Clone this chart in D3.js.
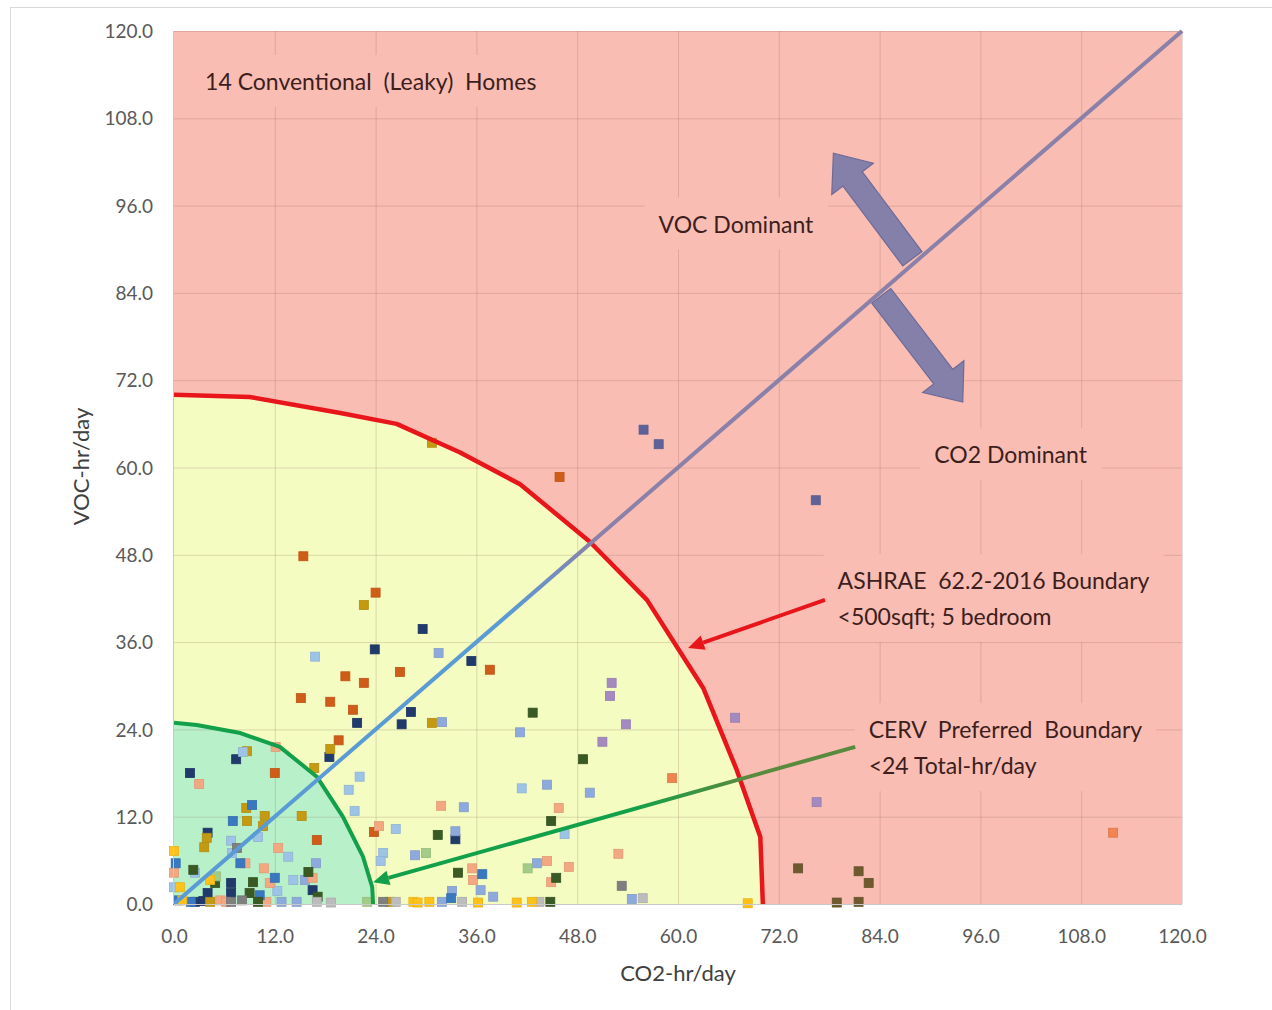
<!DOCTYPE html>
<html>
<head>
<meta charset="utf-8">
<script src="https://cdnjs.cloudflare.com/ajax/libs/d3/7.8.5/d3.min.js"></script>
<style>
  body { margin: 0; background: #fff; }
  svg { display: block; }
  text { font-family: Lato, "Open Sans", "Noto Sans", sans-serif; white-space: pre; }
</style>
</head>
<body>
<svg id="chart" width="1272" height="1010"></svg>
<script>
// ---- axis ticks ----
const xTicks = [0, 12, 24, 36, 48, 60, 72, 84, 96, 108, 120];
const yTicks = [0, 12, 24, 36, 48, 60, 72, 84, 96, 108, 120];

// ---- boundaries (CO2-hr/day, VOC-hr/day) ----
const ashraeBoundary = [[0, 70.0], [9.0, 69.7], [19.8, 67.5], [26.5, 66.0], [34.0, 62.1], [41.2, 57.7],
  [49.5, 49.8], [56.3, 41.8], [63.0, 29.7], [67.0, 18.4], [69.8, 9.2], [70.1, 0]];
const cervBoundary = [[0, 24.9], [2.7, 24.6], [7.9, 23.5], [12.6, 21.6], [17.0, 17.5], [20.1, 12.0],
  [22.5, 6.5], [23.6, 2.3], [23.7, 0]];
const equalLine = [[0, 0], [120, 120]];

// ---- measured hours per day, grouped by home ----
const homeNavy = [[29.6, 37.8], [23.9, 35.0], [35.4, 33.4], [28.2, 26.4], [27.1, 24.7], [21.8, 24.9],
  [18.5, 20.2], [7.4, 19.9], [1.9, 18.0], [4.0, 9.8], [33.5, 8.9], [6.8, 2.9], [16.5, 1.9],
  [2.5, 0.3], [3.5, 0.4], [6.8, 1.5], [4.0, 1.5]];
const homeOrange = [[15.4, 47.8], [24.0, 42.8], [26.9, 31.9], [20.4, 31.3], [22.6, 30.4], [15.1, 28.3],
  [18.6, 27.8], [21.3, 26.7], [37.6, 32.2], [19.6, 22.5], [12.0, 18.0], [17.0, 8.8], [23.8, 9.9],
  [45.9, 58.7]];
const homeGold = [[22.6, 41.1], [30.7, 24.9], [18.6, 21.3], [16.7, 18.7], [8.7, 21.0], [8.6, 13.2],
  [8.7, 11.4], [10.8, 12.1], [10.6, 10.7], [15.2, 12.1], [3.9, 9.1], [3.6, 7.8], [25.7, 0.3],
  [4.3, 0.3], [30.7, 63.4]];
const homeLightBlue = [[16.8, 34.0], [22.1, 17.5], [41.4, 15.9], [26.4, 10.3], [24.9, 7.0], [24.6, 5.9],
  [46.5, 9.6], [8.2, 20.9], [20.8, 15.7], [21.5, 12.8], [6.8, 8.7], [10.0, 9.2], [13.6, 6.5],
  [14.2, 3.3], [12.3, 1.8], [2.5, 4.3], [0, 2.3], [6.9, 7.0]];
const homePeriwinkle = [[31.5, 34.5], [31.9, 25.0], [41.2, 23.6], [44.4, 16.4], [49.5, 15.3], [34.5, 13.3],
  [33.5, 10.0], [28.7, 6.7], [43.2, 5.6], [33.1, 1.8], [36.5, 1.9], [38.0, 1.0], [54.5, 0.7],
  [31.9, 0.3], [16.9, 5.6], [12.8, 0.3], [14.6, 0.3], [15.6, 3.3]];
const homeSalmon = [[31.8, 13.5], [45.8, 13.2], [24.4, 10.7], [52.9, 6.9], [35.5, 4.9], [35.6, 3.3],
  [44.4, 5.9], [47.0, 5.1], [44.9, 3.0], [12.1, 21.6], [3.0, 16.5], [12.4, 7.7], [8.5, 5.6],
  [10.7, 4.9], [11.4, 2.9], [16.5, 3.6], [0, 4.3], [11.0, 0.3], [5.5, 0.5], [6.2, 0.3]];
const homeCoral = [[59.3, 17.3], [111.8, 9.8]];
const homeBlue = [[9.3, 13.6], [7.0, 11.4], [0.2, 5.6], [7.9, 5.6], [12.0, 3.6], [10.2, 1.2],
  [36.7, 4.1], [33.0, 0.8], [0.5, 0.5], [2.0, 0.3]];
const homeDarkGreen = [[42.7, 26.3], [48.7, 19.9], [44.9, 11.4], [31.4, 9.5], [33.8, 4.3], [45.5, 3.6],
  [44.8, 0.3], [16.0, 4.4], [9.4, 3.0], [9.0, 1.5], [4.9, 2.9], [2.3, 4.7], [17.1, 1.0], [10.0, 0.3]];
const homeLightGreen = [[30.0, 7.0], [42.1, 4.9], [23.0, 0.3], [5.0, 3.8]];
const homeGray = [[53.3, 2.5], [24.9, 0.3], [7.5, 7.7], [8.1, 0.5], [6.8, 0.3]];
const homeLightGray = [[55.8, 0.8], [26.4, 0.3], [34.3, 0.3], [43.5, 0.3], [17.0, 0.3], [18.7, 0.2]];
const homeYellow = [[68.3, 0.1], [28.5, 0.3], [29.0, 0.2], [30.4, 0.3], [36.2, 0.2], [40.8, 0.2],
  [42.6, 0.3], [0, 7.3], [4.3, 3.3], [0.7, 2.3], [1.0, 0.5]];
const homePurple = [[52.1, 30.4], [51.9, 28.6], [53.8, 24.7], [51.0, 22.3], [66.8, 25.6], [76.5, 14.0]];
const homeSlate = [[55.9, 65.2], [57.7, 63.2], [76.4, 55.5]];
const homeBrown = [[74.3, 4.9], [81.5, 4.5], [82.7, 2.9], [78.9, 0.2], [81.5, 0.3]];

const homes = [homeNavy, homeOrange, homeGold, homeLightBlue, homePeriwinkle, homeSalmon, homeCoral,
  homeBlue, homeDarkGreen, homeLightGreen, homeGray, homeLightGray, homeYellow, homePurple, homeSlate, homeBrown];
const homeColors = ["#203a6c", "#cf5c18", "#c49a12", "#9dc3e6", "#8eaadc", "#f4a882", "#f08452",
  "#3a78c0", "#3a5a24", "#a3cc88", "#7f7f7f", "#bcbcbc", "#ffc21a", "#a58abf", "#5f6298", "#6e5a2e"];

// ---- annotation text ----
const titleText = "14 Conventional  (Leaky)  Homes";
const vocText = "VOC Dominant";
const co2Text = "CO2 Dominant";
const ashraeText = ["ASHRAE  62.2-2016 Boundary", "<500sqft; 5 bedroom"];
const cervText = ["CERV  Preferred  Boundary", "<24 Total-hr/day"];

// ---- scales ----
const svg = d3.select("#chart");
const x = d3.scaleLinear().domain([0, 120]).range([174, 1182]);
const y = d3.scaleLinear().domain([0, 120]).range([904, 31]);

// outer chart frame
svg.append("rect").attr("x", 10.5).attr("y", 7.5).attr("width", 1400).attr("height", 1100)
  .attr("fill", "#fff").attr("stroke", "#d9d9d9");

const defs = svg.append("defs");
const diagGrad = defs.append("linearGradient").attr("id", "diagGrad").attr("gradientUnits", "userSpaceOnUse")
  .attr("x1", x(40)).attr("y1", y(40)).attr("x2", x(50)).attr("y2", y(50));
diagGrad.append("stop").attr("offset", 0).attr("stop-color", "#5b9bd5");
diagGrad.append("stop").attr("offset", 1).attr("stop-color", "#8a80a8");
const greenGrad = defs.append("linearGradient").attr("id", "greenGrad").attr("gradientUnits", "userSpaceOnUse")
  .attr("x1", x(55)).attr("y1", 0).attr("x2", x(68)).attr("y2", 0);
greenGrad.append("stop").attr("offset", 0).attr("stop-color", "#13a04a");
greenGrad.append("stop").attr("offset", 1).attr("stop-color", "#5a8a3e");

// ---- zone fills ----
const pink = "#f9bdb4";
svg.append("rect").attr("x", x(0)).attr("y", y(120)).attr("width", x(120) - x(0)).attr("height", y(0) - y(120))
  .attr("fill", pink);
const area = d3.line().x(d => x(d[0])).y(d => y(d[1]));
svg.append("path").attr("d", area([[0, 0], ...ashraeBoundary]) + "Z").attr("fill", "#f4fcc1");
svg.append("path").attr("d", area([[0, 0], ...cervBoundary]) + "Z").attr("fill", "#b8f0c9");

// ---- gridlines ----
const grid = svg.append("g").attr("stroke", "rgba(120,80,70,0.2)").attr("stroke-width", 1);
grid.selectAll("line.v").data(xTicks.slice(1)).join("line")
  .attr("x1", d => x(d) + 0.5).attr("x2", d => x(d) + 0.5).attr("y1", y(0)).attr("y2", y(120));
grid.selectAll("line.h").data(yTicks.slice(1)).join("line")
  .attr("y1", d => y(d) + 0.5).attr("y2", d => y(d) + 0.5).attr("x1", x(0)).attr("x2", x(120));

// ---- text boxes (pink backgrounds that break the gridlines) ----
const textColor = "#3d1e1c";
const boxes = svg.append("g");
const labels = svg.append("g").attr("fill", textColor).attr("font-size", 23);

function label(lines, xv, yv, anchor, lineGap) {
  const t = labels.append("text").attr("text-anchor", anchor);
  lines.forEach((s, i) => {
    t.append("tspan").attr("x", x(xv)).attr("y", y(yv) + i * lineGap).text(s);
  });
  const b = t.node().getBBox();
  boxes.append("rect").attr("x", b.x - 14).attr("y", b.y - 12).attr("width", b.width + 28)
    .attr("height", b.height + 24).attr("fill", pink);
  return t;
}
label([titleText], 3.7, 111.9, "start", 0);
label([vocText], 66.9, 92.3, "middle", 0);
label([co2Text], 99.6, 60.6, "middle", 0);
label(ashraeText, 79.0, 43.3, "start", 36);
label(cervText, 82.7, 22.8, "start", 36);

// ---- scatter points ----
const size = 9;
const pts = svg.append("g");
homes.forEach((home, i) => {
  pts.append("g").selectAll("rect").data(home).join("rect")
    .attr("x", d => x(d[0]) - size / 2).attr("y", d => y(d[1]) - size / 2)
    .attr("width", size).attr("height", size)
    .attr("fill", homeColors[i])
    .attr("stroke", d3.color(homeColors[i]).darker(0.25)).attr("stroke-width", 0.8);
});

// ---- boundary curves ----
const line = d3.line().x(d => x(d[0])).y(d => y(d[1]));
svg.append("path").attr("d", line(ashraeBoundary)).attr("fill", "none")
  .attr("stroke", "#e8151b").attr("stroke-width", 4.5).attr("stroke-linejoin", "round");
svg.append("path").attr("d", line(cervBoundary)).attr("fill", "none")
  .attr("stroke", "#12a04b").attr("stroke-width", 4).attr("stroke-linejoin", "round");

// ---- dominance arrows ----
function blockArrow(p0, p1, shaftW, headW, headL) {
  const a = [x(p0[0]), y(p0[1])], b = [x(p1[0]), y(p1[1])];
  const len = Math.hypot(b[0] - a[0], b[1] - a[1]);
  const u = [(b[0] - a[0]) / len, (b[1] - a[1]) / len], n = [-u[1], u[0]];
  const base = [b[0] - u[0] * headL, b[1] - u[1] * headL];
  const P = (p, k) => [p[0] + n[0] * k, p[1] + n[1] * k];
  return [P(a, shaftW / 2), P(base, shaftW / 2), P(base, headW / 2), b,
    P(base, -headW / 2), P(base, -shaftW / 2), P(a, -shaftW / 2)];
}
const arrowUp = [[87.9, 88.7], [78.5, 103.2]];
const arrowDown = [[84.2, 83.6], [93.9, 69.0]];
[arrowUp, arrowDown].forEach(([p0, p1]) => {
  svg.append("polygon").attr("points", blockArrow(p0, p1, 24, 52, 32).map(p => p.join(",")).join(" "))
    .attr("fill", "#8580aa").attr("stroke", "#6d6a98").attr("stroke-width", 1.2);
});

// equal-hours diagonal
svg.append("path").attr("d", line(equalLine)).attr("fill", "none")
  .attr("stroke", "url(#diagGrad)").attr("stroke-width", 4);

// ---- callout arrows ----
function callout(p0, p1, color, w, headL, headW) {
  const a = [x(p0[0]), y(p0[1])], b = [x(p1[0]), y(p1[1])];
  const len = Math.hypot(b[0] - a[0], b[1] - a[1]);
  const u = [(b[0] - a[0]) / len, (b[1] - a[1]) / len], n = [-u[1], u[0]];
  const base = [b[0] - u[0] * headL, b[1] - u[1] * headL];
  svg.append("line").attr("x1", a[0]).attr("y1", a[1]).attr("x2", base[0]).attr("y2", base[1])
    .attr("stroke", color).attr("stroke-width", w);
  svg.append("polygon").attr("points", [b, [base[0] + n[0] * headW / 2, base[1] + n[1] * headW / 2],
    [base[0] - n[0] * headW / 2, base[1] - n[1] * headW / 2]].map(p => p.join(",")).join(" "))
    .attr("fill", color);
}
callout([77.5, 41.8], [61.2, 35.2], "#e8151b", 4, 16, 15);
callout([81.1, 21.6], [23.7, 3.0], "url(#greenGrad)", 4, 16, 15);

// bring annotation text above everything
labels.raise();

// ---- axes ----
svg.append("line").attr("x1", x(0) - 0.5).attr("x2", x(0) - 0.5).attr("y1", y(0)).attr("y2", y(120))
  .attr("stroke", "#c8c8c8");
svg.append("line").attr("x1", x(0)).attr("x2", x(120)).attr("y1", y(0) + 0.5).attr("y2", y(0) + 0.5)
  .attr("stroke", "#c8c8c8");

const fmt = d3.format(".1f");
const xAxis = svg.append("g").attr("transform", `translate(0,${y(0)})`)
  .call(d3.axisBottom(x).tickValues(xTicks).tickFormat(fmt).tickSize(0).tickPadding(26));
const yAxis = svg.append("g").attr("transform", `translate(${x(0)},0)`)
  .call(d3.axisLeft(y).tickValues(yTicks).tickFormat(fmt).tickSize(0).tickPadding(21));
[xAxis, yAxis].forEach(g => {
  g.select(".domain").remove();
  g.selectAll("text").attr("fill", "#595959").attr("font-size", 19)
    .attr("font-family", "Lato, 'Open Sans', sans-serif");
});
yAxis.selectAll("text").attr("dy", "0.35em");

svg.append("text").attr("x", x(60)).attr("y", 981).attr("text-anchor", "middle")
  .attr("fill", "#404040").attr("font-size", 22).text("CO2-hr/day");
svg.append("text").attr("transform", `translate(89,${y(60) - 1}) rotate(-90)`).attr("text-anchor", "middle")
  .attr("fill", "#404040").attr("font-size", 22).text("VOC-hr/day");
</script>
</body>
</html>
